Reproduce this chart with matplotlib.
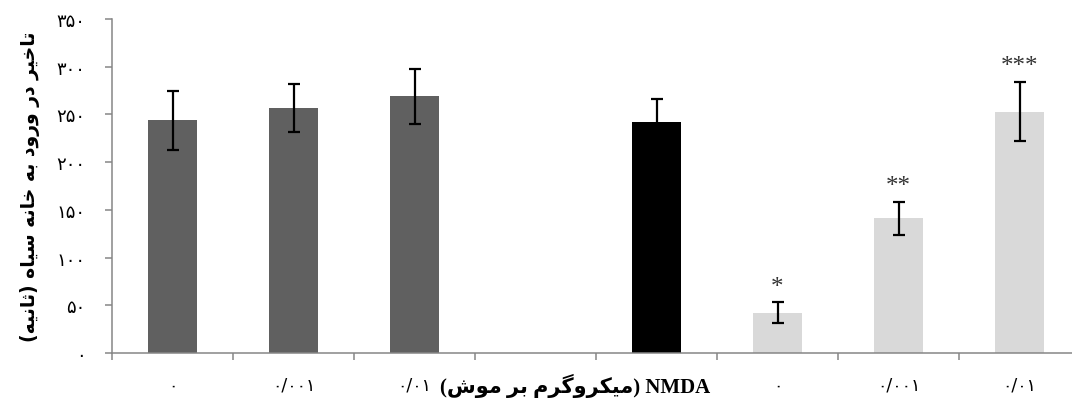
import matplotlib
matplotlib.use('Agg')
import matplotlib.pyplot as plt
import matplotlib.transforms as mtransforms

plt.rcParams['font.family'] = ['DejaVu Sans']

# Data
dose_labels = ['۰', '۰/۰۰۱', '۰/۰۱']
saline_means = [244, 257, 269]
saline_sem = [31, 25, 29]
ctrl_mean = [242]
ctrl_sem = [24]
nmda_means = [42, 141, 253]
nmda_sem = [11, 17, 31]
stars = ['*', '**', '***']
yticks = [0, 50, 100, 150, 200, 250, 300, 350]
persian_digits = '۰۱۲۳۴۵۶۷۸۹'

ylabel_fa = 'تاخیر در ورود به خانه سیاه (ثانیه)'
xlabel_fa = '(میکروگرم بر موش)'

# minimal Persian shaping (matplotlib has no complex text layout)
JOIN = {
    '\u0627': ('\uFE8D', '\uFE8E'),
    '\u062F': ('\uFEA9', '\uFEAA'),
    '\u0631': ('\uFEAD', '\uFEAE'),
    '\u0648': ('\uFEED', '\uFEEE'),
    '\u0628': ('\uFE8F', '\uFE90', '\uFE91', '\uFE92'),
    '\u062A': ('\uFE95', '\uFE96', '\uFE97', '\uFE98'),
    '\u062B': ('\uFE99', '\uFE9A', '\uFE9B', '\uFE9C'),
    '\u062E': ('\uFEA5', '\uFEA6', '\uFEA7', '\uFEA8'),
    '\u0633': ('\uFEB1', '\uFEB2', '\uFEB3', '\uFEB4'),
    '\u0634': ('\uFEB5', '\uFEB6', '\uFEB7', '\uFEB8'),
    '\u0645': ('\uFEE1', '\uFEE2', '\uFEE3', '\uFEE4'),
    '\u0646': ('\uFEE5', '\uFEE6', '\uFEE7', '\uFEE8'),
    '\u0647': ('\uFEE9', '\uFEEA', '\uFEEB', '\uFEEC'),
    '\u06A9': ('\uFB8E', '\uFB8F', '\uFB90', '\uFB91'),
    '\u06AF': ('\uFB92', '\uFB93', '\uFB94', '\uFB95'),
    '\u06CC': ('\uFBFC', '\uFBFD', '\uFBFE', '\uFBFF'),
}


def rtl(s):
    out = []
    for i, ch in enumerate(s):
        forms = JOIN.get(ch)
        if forms is None:
            out.append({'(': ')', ')': '('}.get(ch, ch))
            continue
        prev = s[i - 1] if i > 0 else ''
        nxt = s[i + 1] if i + 1 < len(s) else ''
        jp = len(JOIN.get(prev, ())) == 4
        jn = len(forms) == 4 and nxt in JOIN
        out.append(forms[{(False, False): 0, (True, False): 1,
                          (False, True): 2, (True, True): 3}[(jp, jn)]])
    return ''.join(reversed(out))


def fa_num(n):
    return ''.join(persian_digits[int(c)] for c in str(n))


fig = plt.figure(figsize=(10.72, 4.10), dpi=100)
ax = fig.add_axes([112 / 1072, 56 / 410, 960 / 1072, 334 / 410])

err_kw = dict(ecolor='black', capsize=4.5, elinewidth=1.6, capthick=1.6)
x_sal = [0, 1, 2]
x_ctrl = [4]
x_nmda = [5, 6, 7]
ax.bar(x_sal, saline_means, 0.4, yerr=saline_sem, color='#606060', error_kw=err_kw)
ax.bar(x_ctrl, ctrl_mean, 0.4, yerr=ctrl_sem, color='black', error_kw=err_kw)
ax.bar(x_nmda, nmda_means, 0.4, yerr=nmda_sem, color='#d9d9d9', error_kw=err_kw)

for x, m, e, s in zip(x_nmda, nmda_means, nmda_sem, stars):
    ax.text(x, m + e + 5, s, ha='center', va='bottom', fontsize=18,
            family='Liberation Serif', color='#333333')

ax.set_xlim(-0.5, -0.5 + 960 / 121)
ax.set_ylim(0, 350)
ax.set_yticks(yticks)
ax.set_yticklabels([fa_num(v) for v in yticks], fontsize=13)

ax.set_xticks([i - 0.5 for i in range(8)])
ax.set_xticklabels([])
ax.set_xticks(x_sal + x_ctrl + x_nmda, minor=True)
ax.set_xticklabels(dose_labels + [''] + dose_labels, minor=True, fontsize=12.5)
ax.tick_params(axis='x', which='minor', length=0, pad=16)
ax.tick_params(axis='y', which='major', pad=14)
ax.tick_params(axis='both', which='major', direction='out', length=5,
               width=1.1, color='#868686')

for side in ['top', 'right']:
    ax.spines[side].set_visible(False)
for side in ['left', 'bottom']:
    ax.spines[side].set_color('#868686')
    ax.spines[side].set_linewidth(1.1)

trans = mtransforms.blended_transform_factory(ax.transData, fig.transFigure)
ax.text(4.442, 24 / 410, rtl(xlabel_fa) + ' NMDA', transform=trans,
        ha='right', va='center', fontsize=15, fontweight='bold',
        family=['Liberation Serif', 'DejaVu Sans'])

fig.text(30 / 1072, 0.544, rtl(ylabel_fa), rotation=90, ha='center', va='center',
         fontsize=13.5, fontweight='bold')

fig.savefig('out.png', dpi=100)
